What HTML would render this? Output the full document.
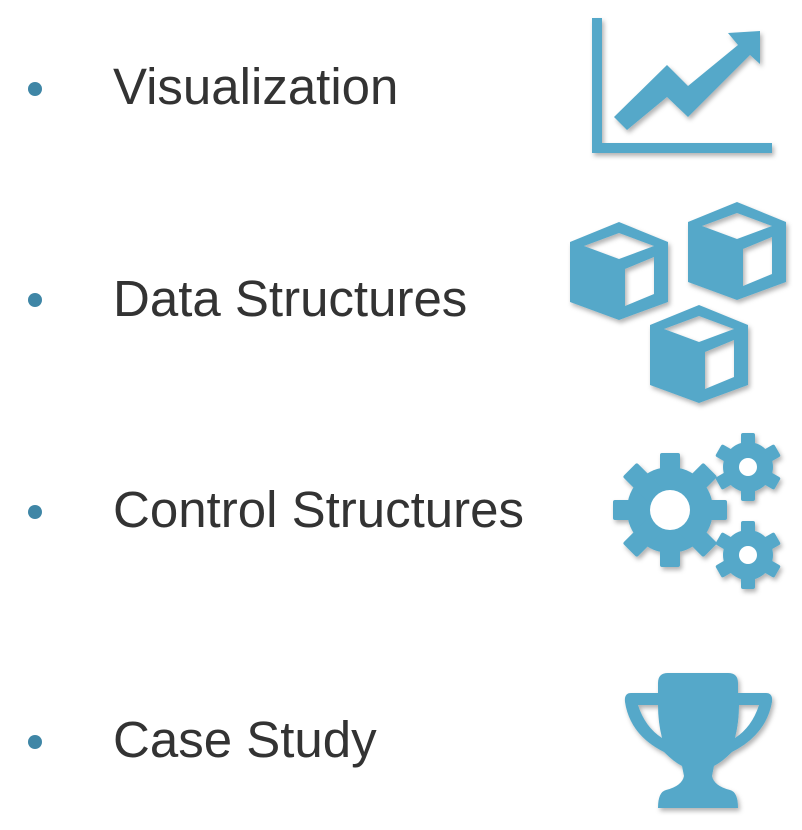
<!DOCTYPE html>
<html><head><style>
html,body{margin:0;padding:0;background:#fff;}
body{width:802px;height:830px;position:relative;overflow:hidden;}
.t{position:absolute;left:113px;font-family:"Liberation Sans",sans-serif;font-size:51px;color:#333;line-height:1;white-space:nowrap;}
.b{position:absolute;left:28px;width:14px;height:14px;border-radius:50%;background:#3f86a6;}
svg{position:absolute;left:0;top:0;}
</style></head><body>
<div class="b" style="top:82px"></div><div class="t" style="top:61px">Visualization</div>
<div class="b" style="top:293px"></div><div class="t" style="top:273px">Data Structures</div>
<div class="b" style="top:505px"></div><div class="t" style="top:484px">Control Structures</div>
<div class="b" style="top:735px"></div><div class="t" style="top:714px">Case Study</div>
<svg width="802" height="830" viewBox="0 0 802 830">
<defs><filter id="s" x="-20%" y="-20%" width="140%" height="140%"><feDropShadow dx="2" dy="3" stdDeviation="2.5" flood-color="#000" flood-opacity="0.3"/></filter></defs>
<g fill="#55a8c9" filter="url(#s)">
<rect x="592" y="18" width="10" height="135"/>
<rect x="592" y="143" width="180" height="10"/>
<polygon points="614,117 667,65 688,86 738,45 728,33 760,31 760,64 750,55 688,117 667,97 627,130"/>
<g transform="translate(570,222)">
<path d="M49,0 L98,20 V80 L49,98 L0,80 V20 Z M49,11 L14,24 L49,37 L84,24 Z M55,47 V84 L84,72 V35 Z" fill-rule="evenodd"/>
</g>
<g transform="translate(688,202)">
<path d="M49,0 L98,20 V80 L49,98 L0,80 V20 Z M49,11 L14,24 L49,37 L84,24 Z M55,47 V84 L84,72 V35 Z" fill-rule="evenodd"/>
</g>
<g transform="translate(650,305)">
<path d="M49,0 L98,20 V80 L49,98 L0,80 V20 Z M49,11 L14,24 L49,37 L84,24 Z M55,47 V84 L84,72 V35 Z" fill-rule="evenodd"/>
</g>
<g transform="translate(670,510)">
<circle r="43"/>
<g><rect x="-10" y="-57" width="20" height="114" rx="2"/><rect x="-10" y="-57" width="20" height="114" rx="2" transform="rotate(45)"/><rect x="-10" y="-57" width="20" height="114" rx="2" transform="rotate(90)"/><rect x="-10" y="-57" width="20" height="114" rx="2" transform="rotate(135)"/></g>
<circle r="20" fill="#fff"/>
</g>
<g transform="translate(748,467)">
<circle r="25"/>
<rect x="-7" y="-34" width="14" height="68" rx="2"/><rect x="-7" y="-34" width="14" height="68" rx="2" transform="rotate(60)"/><rect x="-7" y="-34" width="14" height="68" rx="2" transform="rotate(120)"/>
<circle r="9" fill="#fff"/>
</g>
<g transform="translate(748,555)">
<circle r="25"/>
<rect x="-7" y="-34" width="14" height="68" rx="2"/><rect x="-7" y="-34" width="14" height="68" rx="2" transform="rotate(60)"/><rect x="-7" y="-34" width="14" height="68" rx="2" transform="rotate(120)"/>
<circle r="9" fill="#fff"/>
</g>
<path d="M668,673 H728 Q738,673 738,683 V693 H766 Q773,693 772,702 Q766,735 732,752 Q722,762 714,766 L712,776 Q714,786 730,790 Q738,792 738,808 H658 Q658,792 666,790 Q682,786 684,776 L682,766 Q674,762 664,752 Q630,735 625,702 Q624,693 631,693 H658 V683 Q658,673 668,673 Z M638,705 Q645,727 662,738 Q658,722 658,705 Z M759,705 Q752,727 735,738 Q739,722 739,705 Z" fill-rule="evenodd"/>
</g>
</svg>
</body></html>
